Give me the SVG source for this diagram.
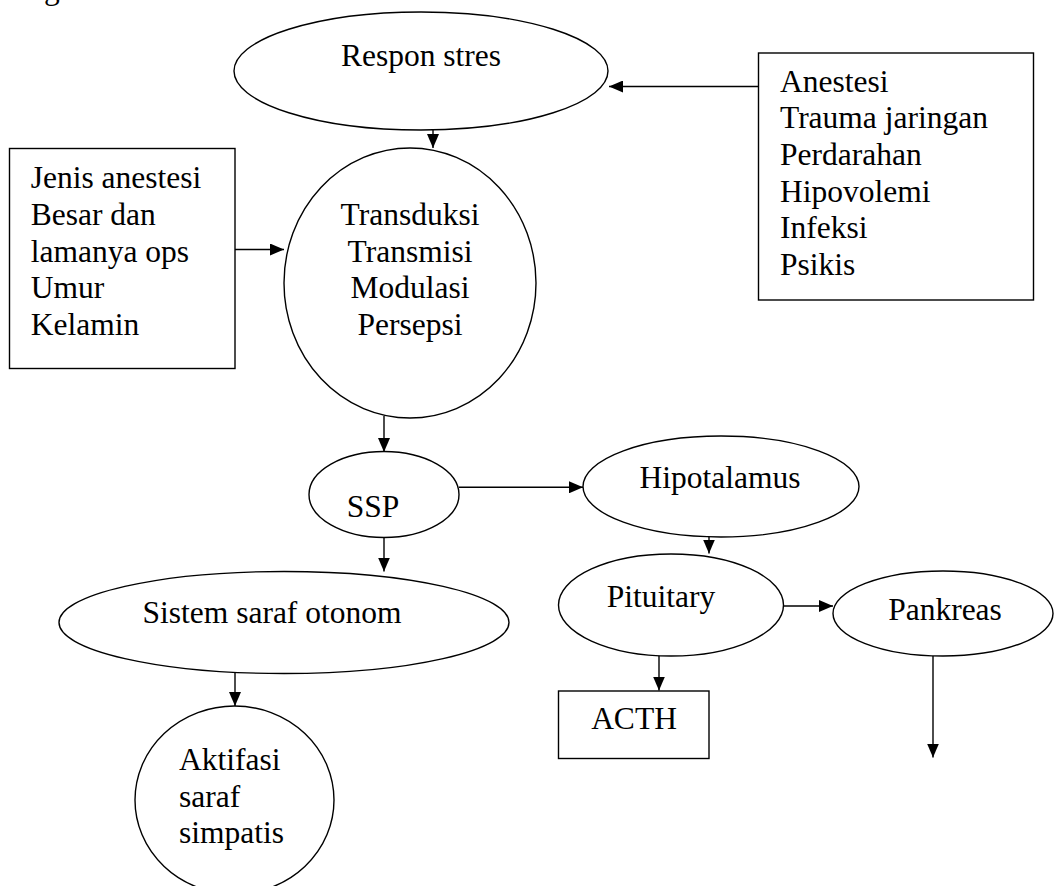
<svg xmlns="http://www.w3.org/2000/svg" width="1054" height="886" viewBox="0 0 1054 886">
  <style>
    .shape { fill: #ffffff; stroke: #000000; stroke-width: 1.4; }
    .link { fill: none; stroke: #000000; stroke-width: 1.4; }
    text { font-family: "Liberation Serif", "Times New Roman", serif; font-size: 31.5px; fill: #000000; }
    .mid { text-anchor: middle; }
  </style>
  <defs>
    <marker id="arrow" viewBox="0 0 14 12" refX="14" refY="6" markerWidth="14" markerHeight="12" markerUnits="userSpaceOnUse" orient="auto">
      <path d="M0,0 L14,6 L0,12 z" fill="#000000"/>
    </marker>
  </defs>

  <rect width="1054" height="886" fill="#ffffff"/>

  <!-- tail of the preceding paragraph line, clipped by the page top -->
  <text x="-12" y="-1">sebagai berikut:</text>

  <g id="connectors">
    <line class="link" x1="758" y1="86.5" x2="609" y2="86.5" marker-end="url(#arrow)"/>
    <line class="link" x1="433" y1="130" x2="433" y2="148" marker-end="url(#arrow)"/>
    <line class="link" x1="235" y1="249.5" x2="284" y2="249.5" marker-end="url(#arrow)"/>
    <line class="link" x1="384" y1="416" x2="384" y2="452" marker-end="url(#arrow)"/>
    <line class="link" x1="459" y1="487.3" x2="583" y2="487.3" marker-end="url(#arrow)"/>
    <line class="link" x1="384" y1="537" x2="384" y2="571.5" marker-end="url(#arrow)"/>
    <line class="link" x1="709" y1="536" x2="709" y2="553.5" marker-end="url(#arrow)"/>
    <line class="link" x1="235" y1="673" x2="235" y2="706" marker-end="url(#arrow)"/>
    <line class="link" x1="783" y1="606" x2="833" y2="606" marker-end="url(#arrow)"/>
    <line class="link" x1="659" y1="655" x2="659" y2="690.5" marker-end="url(#arrow)"/>
    <line class="link" x1="933" y1="656" x2="933" y2="757.5" marker-end="url(#arrow)"/>
  </g>

  <g id="respon-stres">
    <ellipse class="shape" cx="421" cy="71" rx="187" ry="59"/>
    <text class="mid" x="421" y="66">Respon stres</text>
  </g>

  <g id="penyebab">
    <rect class="shape" x="758.5" y="53" width="275" height="247"/>
    <text x="780" y="91.7">Anestesi</text>
    <text x="780" y="128.3">Trauma jaringan</text>
    <text x="780" y="165">Perdarahan</text>
    <text x="780" y="201.7">Hipovolemi</text>
    <text x="780" y="238.3">Infeksi</text>
    <text x="780" y="275">Psikis</text>
  </g>

  <g id="faktor">
    <rect class="shape" x="9.5" y="148.5" width="225.5" height="220"/>
    <text x="30.7" y="188.3">Jenis anestesi</text>
    <text x="30.7" y="225">Besar dan</text>
    <text x="30.7" y="261.7">lamanya ops</text>
    <text x="30.7" y="298.4">Umur</text>
    <text x="30.7" y="335.1">Kelamin</text>
  </g>

  <g id="proses-nyeri">
    <ellipse class="shape" cx="410" cy="283" rx="126" ry="135"/>
    <text class="mid" x="410" y="225">Transduksi</text>
    <text class="mid" x="410" y="261.7">Transmisi</text>
    <text class="mid" x="410" y="298.4">Modulasi</text>
    <text class="mid" x="410" y="335.1">Persepsi</text>
  </g>

  <g id="ssp">
    <ellipse class="shape" cx="384" cy="494.5" rx="75" ry="43"/>
    <text class="mid" x="373" y="516.7">SSP</text>
  </g>

  <g id="hipotalamus">
    <ellipse class="shape" cx="721" cy="486.5" rx="138" ry="50.5"/>
    <text class="mid" x="720" y="488.3">Hipotalamus</text>
  </g>

  <g id="sistem-saraf-otonom">
    <ellipse class="shape" cx="284" cy="622.5" rx="225" ry="51"/>
    <text class="mid" x="272" y="623.3">Sistem saraf otonom</text>
  </g>

  <g id="aktifasi">
    <ellipse class="shape" cx="234.5" cy="800" rx="99.5" ry="94"/>
    <text x="179" y="770">Aktifasi</text>
    <text x="179" y="806.7">saraf</text>
    <text x="179" y="843.4">simpatis</text>
  </g>

  <g id="pituitary">
    <ellipse class="shape" cx="671" cy="605" rx="112.5" ry="51"/>
    <text class="mid" x="661" y="606.7">Pituitary</text>
  </g>

  <g id="pankreas">
    <ellipse class="shape" cx="943" cy="613.5" rx="110" ry="42.5"/>
    <text class="mid" x="945" y="620">Pankreas</text>
  </g>

  <g id="acth">
    <rect class="shape" x="558.5" y="691" width="150.5" height="67.5"/>
    <text class="mid" x="634" y="729.3">ACTH</text>
  </g>
</svg>
